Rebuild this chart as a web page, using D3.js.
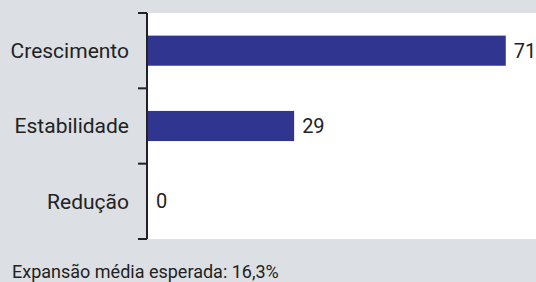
<!DOCTYPE html>
<html>
<head>
<meta charset="utf-8">
<script src="https://cdn.jsdelivr.net/npm/d3@7"></script>
<style>
  body { margin: 0; background: #dcdfe3; }
  svg { display: block; font-family: Roboto, sans-serif; }
</style>
</head>
<body>
<script>
const categories = ["Crescimento", "Estabilidade", "Redução"];
const values = [71, 29, 0];
const footnote = "Expansão média esperada: 16,3%";

const width = 536;
const height = 282;
const margin = { top: 13, right: 0, bottom: 43, left: 148 };

const svg = d3.select("body").append("svg")
  .attr("width", width)
  .attr("height", height);

// fundo
svg.append("rect")
  .attr("width", width)
  .attr("height", height)
  .attr("fill", "#dcdfe3");

// painel branco
svg.append("rect")
  .attr("x", margin.left)
  .attr("y", margin.top)
  .attr("width", width - margin.left - margin.right)
  .attr("height", height - margin.top - margin.bottom)
  .attr("fill", "#ffffff");

const xScale = d3.scaleLinear()
  .domain([0, 77])
  .range([margin.left, width - margin.right]);

const yScale = d3.scaleBand()
  .domain(categories)
  .range([margin.top, height - margin.bottom])
  .paddingInner(0.6)
  .paddingOuter(0.3);

// barras
svg.append("g")
  .selectAll("rect")
  .data(categories)
  .join("rect")
  .attr("x", xScale(0))
  .attr("y", d => yScale(d))
  .attr("width", (d, i) => xScale(values[i]) - xScale(0))
  .attr("height", yScale.bandwidth())
  .attr("fill", "#303590");

// valores
svg.append("g")
  .selectAll("text")
  .data(categories)
  .join("text")
  .attr("x", (d, i) => xScale(values[i]) + 8)
  .attr("y", d => yScale(d) + yScale.bandwidth() / 2)
  .attr("dy", "0.35em")
  .attr("font-size", 20)
  .attr("fill", "#222")
  .text((d, i) => values[i]);

// eixo y com ticks entre as categorias
const bounds = d3.range(categories.length + 1)
  .map(i => margin.top + i * (height - margin.top - margin.bottom) / categories.length);

const axis = svg.append("g");
axis.append("line")
  .attr("x1", margin.left - 1).attr("x2", margin.left - 1)
  .attr("y1", bounds[0]).attr("y2", bounds[bounds.length - 1])
  .attr("stroke", "#222").attr("stroke-width", 2);
axis.selectAll(".tick")
  .data(bounds)
  .join("line")
  .attr("x1", margin.left - 10).attr("x2", margin.left - 1)
  .attr("y1", d => d).attr("y2", d => d)
  .attr("stroke", "#222").attr("stroke-width", 2);

axis.selectAll("text")
  .data(categories)
  .join("text")
  .attr("x", margin.left - 19)
  .attr("y", d => yScale(d) + yScale.bandwidth() / 2)
  .attr("dy", "0.35em")
  .attr("text-anchor", "end")
  .attr("font-size", 21)
  .attr("fill", "#222")
  .text(d => d);

svg.append("text")
  .attr("x", 12)
  .attr("y", 278)
  .attr("font-size", 18)
  .attr("fill", "#222")
  .text(footnote);
</script>
</body>
</html>
